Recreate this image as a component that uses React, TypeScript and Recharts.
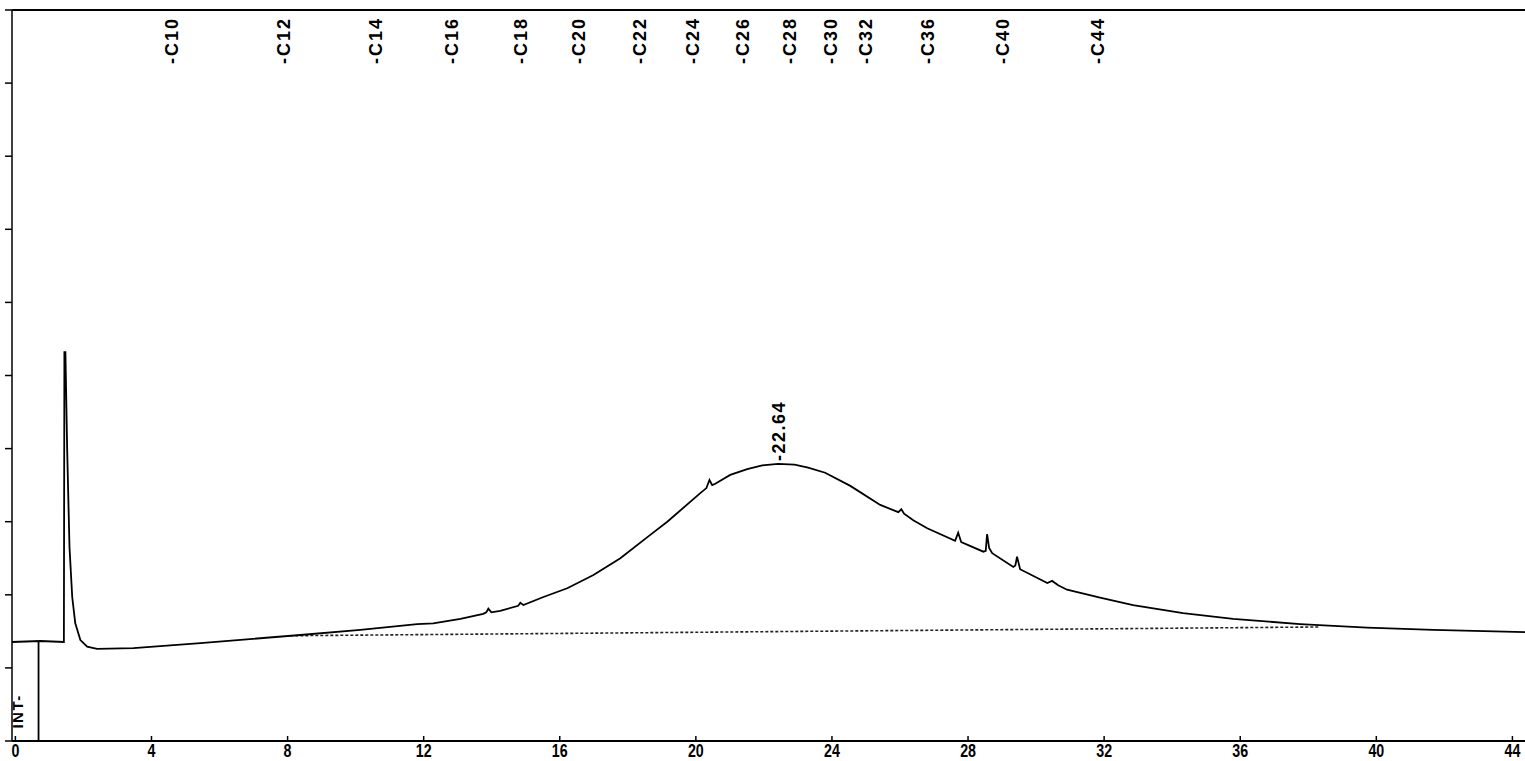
import { LineChart, Line, XAxis, YAxis, ReferenceDot, LabelList } from 'recharts';

// chromatogram trace, retention time (min) vs detector signal
const traceTime = [
  -0.1, 0.73, 1.425, 1.44, 1.47, 1.52, 1.59, 1.67, 1.76, 1.91, 2.11, 2.4, 3.47, 5.44, 8.37, 10.14,
  11.81, 12.28, 13.08, 13.75, 13.84, 13.9, 13.99, 14.25, 14.78, 14.84, 14.93, 15.52, 16.22, 16.99,
  17.78, 18.66, 19.16, 20.13, 20.31, 20.4, 20.48, 20.57, 21.01, 21.51, 21.95, 22.42, 22.9, 23.3, 23.8,
  24.54, 25.42, 25.95, 26.04, 26.12, 26.39, 26.8, 27.62, 27.71, 27.8, 28.45, 28.52, 28.56, 28.62,
  28.71, 29.33, 29.39, 29.44, 29.53, 30.33, 30.47, 30.65, 30.91, 31.88, 32.85, 34.32, 35.79, 37.76,
  39.73, 41.67, 44.37,
];
const traceSignal = [
  1.354, 1.368, 1.354, 5.32, 5.32, 4.02, 2.65, 1.97, 1.61, 1.38, 1.29, 1.26, 1.27, 1.34, 1.45, 1.52,
  1.6, 1.61, 1.67, 1.74, 1.76, 1.81, 1.76, 1.78, 1.85, 1.89, 1.86, 1.97, 2.09, 2.27,
  2.5, 2.82, 3.0, 3.39, 3.46, 3.57, 3.5, 3.52, 3.64, 3.72, 3.77, 3.79, 3.78, 3.74, 3.67,
  3.49, 3.23, 3.13, 3.17, 3.11, 3.02, 2.91, 2.74, 2.85, 2.72, 2.59, 2.6, 2.83, 2.64,
  2.57, 2.38, 2.4, 2.52, 2.35, 2.16, 2.19, 2.13, 2.07, 1.96, 1.86, 1.75, 1.67, 1.6,
  1.55, 1.52, 1.49,
];

// integration baseline (dotted)
const baselineTime = [8.08, 38.35];
const baselineSignal = [1.44, 1.56];

// integration start marker
const intTime = [0.68, 0.68];
const intSignal = [0, 1.354];

const timeTicks = [0, 4, 8, 12, 16, 20, 24, 28, 32, 36, 40, 44];
const signalTicks = [0, 1, 2, 3, 4, 5, 6, 7, 8, 9, 10];

// n-alkane retention markers along the top
const carbonLabels = ['C10', 'C12', 'C14', 'C16', 'C18', 'C20', 'C22', 'C24', 'C26', 'C28', 'C30', 'C32', 'C36', 'C40', 'C44'];
const carbonTimes = [4.61, 7.88, 10.58, 12.84, 14.84, 16.57, 18.34, 19.92, 21.39, 22.77, 23.95, 25.0, 26.8, 29.0, 31.8];

const peakTime = 22.42;
const peakSignal = 3.79;
const peakText = '22.64';

const intLabelTime = 0.05;
const intLabelSignal = 0.17;

const traceData = traceTime.map((t, i) => ({ t, v: traceSignal[i] }));
const baselineData = baselineTime.map((t, i) => ({ t, v: baselineSignal[i] }));
const intData = intTime.map((t, i) => ({ t, v: intSignal[i] }));
const carbonData = carbonTimes.map((t, i) => ({ t, v: 10, label: carbonLabels[i] }));

const labelFont = "'Liberation Sans', Arial, sans-serif";

const BottomTick = ({ x, y, payload }: any) => (
  <g>
    <line x1={x} x2={x} y1={y} y2={y - 5} stroke="#000" strokeWidth={1.5} />
    <text
      transform={`translate(${x} ${y + 16}) scale(0.75 1)`}
      textAnchor="middle"
      fontFamily={labelFont}
      fontWeight="bold"
      fontSize={19}
      fill="#000"
    >
      {payload.value}
    </text>
  </g>
);

const LeftTick = ({ x, y }: any) => (
  <line x1={x - 7} x2={x} y1={y} y2={y} stroke="#000" strokeWidth={1.5} />
);

const CarbonLabel = (props: any) => {
  const tx = props.x + 6;
  const ty = props.y + 54;
  return (
    <text
      x={tx}
      y={ty}
      transform={`rotate(-90 ${tx} ${ty})`}
      textAnchor="start"
      fontFamily={labelFont}
      fontWeight="bold"
      fontSize={18}
      letterSpacing={2}
      fill="#000"
    >
      -{props.value}
    </text>
  );
};

const PeakLabel = (props: any) => {
  const vb = props.viewBox || {};
  const tx = vb.x + 7;
  const ty = vb.y - 3;
  return (
    <text
      x={tx}
      y={ty}
      transform={`rotate(-90 ${tx} ${ty})`}
      textAnchor="start"
      fontFamily={labelFont}
      fontWeight="bold"
      fontSize={18}
      letterSpacing={1.5}
      fill="#000"
    >
      -{peakText}
    </text>
  );
};

const IntLabel = (props: any) => {
  const vb = props.viewBox || {};
  const tx = vb.x + 6;
  const ty = vb.y;
  return (
    <text
      x={tx}
      y={ty}
      transform={`rotate(-90 ${tx} ${ty})`}
      textAnchor="start"
      fontFamily={labelFont}
      fontWeight="bold"
      fontSize={15}
      letterSpacing={1.5}
      fill="#000"
    >
      INT-
    </text>
  );
};

export default function App() {
  return (
    <div style={{ position: 'absolute', left: 0, top: 0, background: '#fff' }}>
      <LineChart width={1525} height={761} margin={{ top: 0, right: 0, left: 0, bottom: 0 }}>
        <XAxis
          xAxisId="bottom"
          dataKey="t"
          type="number"
          domain={[-0.1, 44.35]}
          ticks={timeTicks}
          interval={0}
          height={20}
          tickSize={0}
          tickMargin={0}
          tickLine={false}
          axisLine={{ stroke: '#000', strokeWidth: 2 }}
          tick={<BottomTick />}
        />
        <XAxis
          xAxisId="top"
          orientation="top"
          dataKey="t"
          type="number"
          domain={[-0.1, 44.35]}
          height={10}
          tickLine={false}
          tick={false}
          axisLine={{ stroke: '#000', strokeWidth: 2 }}
        />
        <YAxis
          dataKey="v"
          type="number"
          domain={[0, 10]}
          ticks={signalTicks}
          interval={0}
          width={12}
          tickSize={0}
          tickMargin={0}
          tickLine={false}
          tick={<LeftTick />}
          axisLine={{ stroke: '#000', strokeWidth: 1.5 }}
        />
        <Line
          xAxisId="top"
          data={carbonData}
          dataKey="v"
          type="linear"
          stroke="none"
          dot={false}
          isAnimationActive={false}
        >
          <LabelList dataKey="label" content={CarbonLabel} />
        </Line>
        <Line
          xAxisId="bottom"
          data={baselineData}
          dataKey="v"
          type="linear"
          stroke="#222"
          strokeWidth={1.6}
          strokeDasharray="3 2"
          dot={false}
          isAnimationActive={false}
        />
        <Line
          xAxisId="bottom"
          data={intData}
          dataKey="v"
          type="linear"
          stroke="#000"
          strokeWidth={1.8}
          dot={false}
          isAnimationActive={false}
        />
        <Line
          xAxisId="bottom"
          data={traceData}
          dataKey="v"
          type="linear"
          stroke="#000"
          strokeWidth={1.8}
          dot={false}
          isAnimationActive={false}
        />
        <ReferenceDot xAxisId="bottom" x={peakTime} y={peakSignal} r={0} stroke="none" label={PeakLabel} />
        <ReferenceDot xAxisId="bottom" x={intLabelTime} y={intLabelSignal} r={0} stroke="none" label={IntLabel} />
      </LineChart>
    </div>
  );
}
